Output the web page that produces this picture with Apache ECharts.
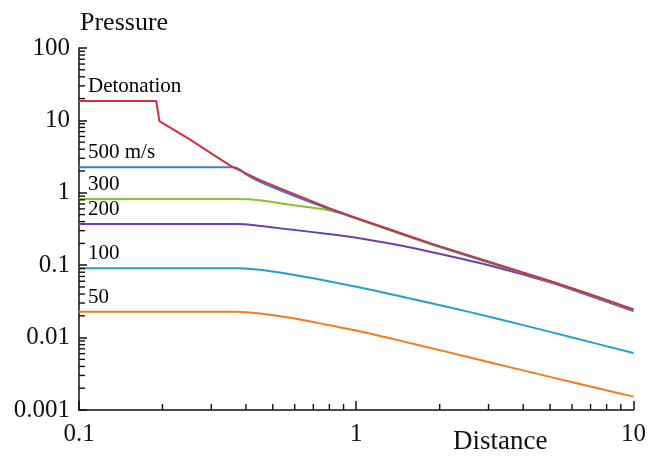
<!DOCTYPE html>
<html>
<head>
<meta charset="utf-8">
<script src="https://cdn.jsdelivr.net/npm/echarts@6/dist/echarts.min.js"></script>
<style>
  html, body { margin: 0; padding: 0; background: #fff; }
  #chart { width: 649px; height: 456px; }
</style>
</head>
<body>
<div id="chart"></div>
<script>
// pressure vs distance (log-log)
var detonation = [[0.1, 18.5], [0.19, 18.5], [0.195, 9.8], [0.25, 5.5], [0.3, 3.5], [0.356, 2.3], [0.45, 1.5],
  [0.571, 1.03], [0.794, 0.62], [1, 0.45], [1.4, 0.29], [1.88, 0.197], [3.15, 0.106], [5, 0.0605], [7, 0.0395], [10, 0.0245]];
var v500 = [[0.1, 2.25], [0.36, 2.25], [0.38, 2.1], [0.4, 1.8], [0.45, 1.42], [0.571, 0.97], [0.794, 0.6],
  [1, 0.443], [1.4, 0.285], [1.88, 0.194], [3.15, 0.104], [5, 0.0598], [7, 0.039], [10, 0.0242]];
var v300 = [[0.1, 0.82], [0.37, 0.82], [0.45, 0.79], [0.571, 0.69], [0.7, 0.62], [0.794, 0.575], [0.9, 0.51],
  [1, 0.44], [1.4, 0.283], [1.88, 0.192], [3.15, 0.103], [5, 0.0595], [7, 0.0387], [10, 0.024]];
var v200 = [[0.1, 0.37], [0.37, 0.37], [0.45, 0.349], [0.571, 0.313], [0.794, 0.27], [1, 0.24], [1.4, 0.191],
  [1.88, 0.151], [3.15, 0.0953], [5, 0.058], [7, 0.0375], [10, 0.0232]];
var v100 = [[0.1, 0.091], [0.38, 0.091], [0.45, 0.0865], [0.571, 0.0758], [0.7, 0.066], [1, 0.0503], [1.4, 0.0382],
  [2.14, 0.0265], [3.15, 0.0187], [5, 0.012], [7, 0.00866], [10, 0.00611]];
var v50 = [[0.1, 0.0228], [0.37, 0.0228], [0.45, 0.0215], [0.571, 0.0189], [0.7, 0.0164], [1, 0.0125],
  [1.4, 0.0093], [2.14, 0.0063], [3.15, 0.0044], [5, 0.00287], [7, 0.00211], [10, 0.00153]];

var seriesNames = ['Detonation', '500 m/s', '300', '200', '100', '50'];
var seriesData = [detonation, v500, v300, v200, v100, v50];
var seriesColors = ['#d2303a', '#3d7dc4', '#8dc227', '#6a40b0', '#1ea3c8', '#f47d1a'];

// minor ticks on the log axes
var minorSteps = [2, 3, 4, 5, 6, 7, 8, 9];
var xDecades = [0.1, 1];
var yDecades = [0.001, 0.01, 0.1, 1, 10];

var X_MIN = 0.1, X_MAX = 10, Y_MIN = 0.001, Y_MAX = 100;
var FONT = 'Liberation Serif';
var INK = '#111111';

var xMinor = [];
xDecades.forEach(function (d) {
  minorSteps.forEach(function (m) { xMinor.push([+(d * m).toPrecision(3), Y_MIN]); });
});
var yMinor = [];
yDecades.forEach(function (d) {
  minorSteps.forEach(function (m) { yMinor.push([X_MIN, +(d * m).toPrecision(3)]); });
});

function fmt (v) {
  return String(+v.toPrecision(3));
}

var series = seriesData.map(function (d, i) {
  return {
    name: seriesNames[i],
    type: 'line',
    data: d,
    showSymbol: false,
    // the detonation curve has a jump, keep it straight-segmented
    smooth: i === 0 ? false : 0.3,
    lineStyle: { width: 2, color: seriesColors[i] },
    itemStyle: { color: seriesColors[i] },
    z: 3 + (seriesData.length - i)
  };
});

// curve names written above the start of each curve
series.push({
  type: 'scatter',
  silent: true,
  symbolSize: 0,
  itemStyle: { opacity: 1 },
  data: seriesData.map(function (d, i) {
    return { name: seriesNames[i], value: d[0] };
  }),
  label: {
    show: true,
    position: 'top',
    align: 'left',
    distance: 4,
    offset: [9, 0],
    formatter: '{b}',
    fontFamily: FONT,
    fontSize: 21,
    color: '#000000',
    opacity: 1
  },
  z: 10
});

series.push({
  type: 'custom',
  silent: true,
  data: xMinor,
  renderItem: function (params, api) {
    var p = api.coord([api.value(0), api.value(1)]);
    return {
      type: 'line',
      shape: { x1: p[0], y1: p[1], x2: p[0], y2: p[1] - 6 },
      style: { stroke: INK, lineWidth: 1.4 }
    };
  },
  z: 11
});

series.push({
  type: 'custom',
  silent: true,
  data: yMinor,
  renderItem: function (params, api) {
    var p = api.coord([api.value(0), api.value(1)]);
    return {
      type: 'line',
      shape: { x1: p[0], y1: p[1], x2: p[0] + 6, y2: p[1] },
      style: { stroke: INK, lineWidth: 1.4 }
    };
  },
  z: 11
});

var myChart = echarts.init(document.getElementById('chart'));

myChart.setOption({
  animation: false,
  backgroundColor: '#ffffff',
  title: [{
    text: 'Pressure',
    left: 80,
    top: 10,
    padding: 0,
    textStyle: { fontFamily: FONT, fontSize: 26, fontWeight: 'normal', color: INK }
  }, {
    text: 'Distance',
    left: 453,
    top: 428,
    padding: 0,
    textStyle: { fontFamily: FONT, fontSize: 27, fontWeight: 'normal', color: INK }
  }],
  grid: { left: 79, right: 12, top: 48, bottom: 46, containLabel: false },
  xAxis: {
    type: 'log',
    logBase: 10,
    min: X_MIN,
    max: X_MAX,
    axisLine: { show: true, lineStyle: { color: INK, width: 1.5 } },
    axisTick: { show: true, inside: true, length: 9, lineStyle: { color: INK, width: 1.5 } },
    axisLabel: { fontFamily: FONT, fontSize: 25, color: INK, margin: 12, formatter: fmt },
    splitLine: { show: false }
  },
  yAxis: {
    type: 'log',
    logBase: 10,
    min: Y_MIN,
    max: Y_MAX,
    axisLine: { show: true, lineStyle: { color: INK, width: 1.5 } },
    axisTick: { show: true, inside: true, length: 8, lineStyle: { color: INK, width: 1.5 } },
    axisLabel: { fontFamily: FONT, fontSize: 25, color: INK, margin: 9, formatter: fmt },
    splitLine: { show: false }
  },
  series: series
});
</script>
</body>
</html>
